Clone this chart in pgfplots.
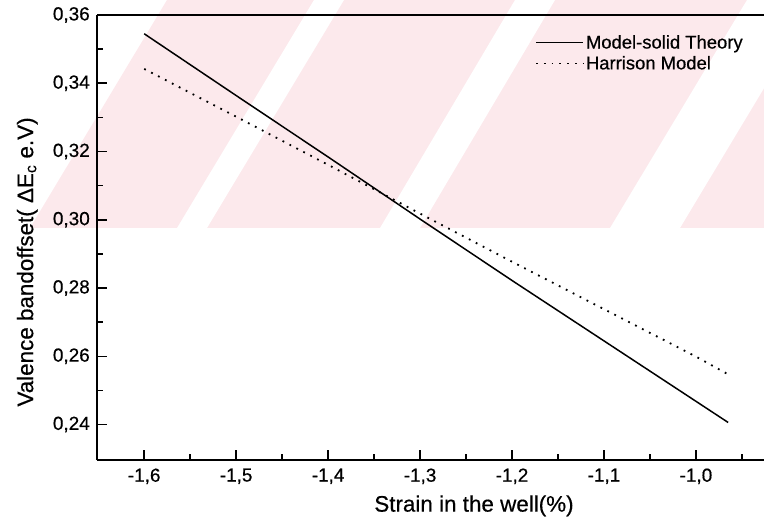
\documentclass[border=0pt]{standalone}
\usepackage{fontspec}
\setmainfont{Liberation Sans}
\newfontfamily\scanfont{Liberation Sans}[FakeBold=0.5]
\usepackage{pgfplots}
\pgfplotsset{compat=1.18}
\definecolor{wmpink}{RGB}{252,233,236}
\begin{document}
\begin{tikzpicture}
\useasboundingbox (-97.3bp,-64bp) rectangle (666.7bp,460bp);
% faint watermark in the background (image px -> (px-97.3, 460-py))
\fill[wmpink] (-67.3bp,232bp) -- (666.7bp,232bp) -- (666.7bp,460bp) -- (69.7bp,460bp) -- cycle;
\fill[white] (79.7bp,232bp) -- (109.7bp,232bp) -- (246.7bp,460bp) -- (216.7bp,460bp) -- cycle;
\fill[white] (282.7bp,232bp) -- (322.7bp,232bp) -- (457.7bp,460bp) -- (417.7bp,460bp) -- cycle;
\fill[white] (512.7bp,232bp) -- (582.7bp,232bp) -- (719.7bp,460bp) -- (649.7bp,460bp) -- cycle;
\begin{axis}[
  scale only axis,
  width=666.7bp, height=445bp,
  at={(0,0)}, anchor=south west,
  xmin=-1.651, xmax=-0.926,
  ymin=0.2296, ymax=0.36,
  axis x line=box, axis y line=left,
  axis line style={-, line width=1.8bp, black},
  xtick={-1.6,-1.5,-1.4,-1.3,-1.2,-1.1,-1.0},
  minor xtick={-1.55,-1.45,-1.35,-1.25,-1.15,-1.05,-0.95},
  ytick={0.24,0.26,0.28,0.30,0.32,0.34,0.36},
  minor ytick={0.25,0.27,0.29,0.31,0.33,0.35},
  xtick pos=lower, ytick pos=left,
  tick align=inside,
  major tick length=10bp, minor tick length=6bp,
  every tick/.style={black, line width=1.5bp},
  ticklabel style={font=\scanfont\fontsize{19}{21}\selectfont},
  xticklabel style={yshift=-5bp, /pgf/number format/.cd, fixed, fixed zerofill, precision=1, use comma, assume math mode=true},
  yticklabel style={xshift=-4bp, /pgf/number format/.cd, fixed, fixed zerofill, precision=2, use comma, assume math mode=true},
  xlabel={Strain in the well(\%)},
  ylabel={Valence bandoffset( ΔE\textsubscript{c} e.V)},
  label style={font=\scanfont\fontsize{22.5}{25}\selectfont},
  xlabel style={at={(rel axis cs:0.565,-0.103)}, anchor=center},
  ylabel style={at={(rel axis cs:-0.105,0.445)}, anchor=center, rotate=0},
  legend style={at={(rel axis cs:0.6565,0.9596)}, anchor=north west, draw=none, fill=none,
    font=\scanfont\fontsize{18.5}{20}\selectfont, row sep=2bp, inner sep=0pt},
  legend cell align=left,
  legend image code/.code={\draw[#1] (0bp,0bp) -- (47bp,0bp);},
  clip=false,
]
\addplot[black, line width=1.5bp] coordinates {
  (-1.600,0.3545) (-1.500,0.3364) (-1.400,0.3184) (-1.300,0.3002)
  (-1.200,0.2822) (-1.100,0.2645) (-1.000,0.2468) (-0.965,0.2406)
};
\addlegendentry{Model-solid Theory}
\addplot[black, line width=1.8bp, dash pattern=on 1.8bp off 6bp] coordinates {
  (-1.600,0.3442) (-1.500,0.3302) (-1.400,0.3161) (-1.300,0.3018)
  (-1.200,0.2877) (-1.100,0.2738) (-1.000,0.2599) (-0.965,0.2547)
};
\addlegendentry{Harrison Model}
\end{axis}
\end{tikzpicture}
\end{document}
